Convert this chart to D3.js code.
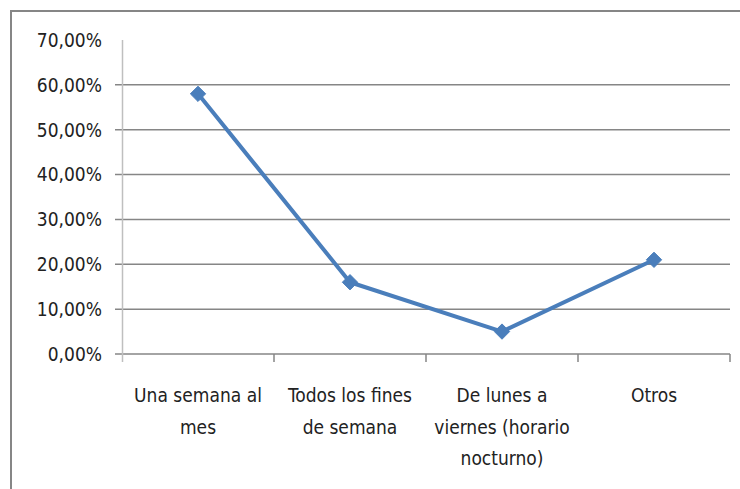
<!doctype html>
<html>
<head>
<meta charset="utf-8">
<title>Frecuencia</title>
<script src="https://cdn.jsdelivr.net/npm/d3@7"></script>
<style>
  body { margin: 0; background: #fff; }
  text { font-family: "DejaVu Sans Condensed", "Open Sans", sans-serif; fill: #222; }
</style>
</head>
<body>
<svg width="740" height="489"></svg>
<script>
// datos
var categorias = ["Una semana al mes", "Todos los fines de semana", "De lunes a viernes (horario nocturno)", "Otros"];
var etiquetas = [["Una semana al", "mes"], ["Todos los fines", "de semana"], ["De lunes a", "viernes (horario", "nocturno)"], ["Otros"]];
var valores = [0.58, 0.16, 0.05, 0.21];
var ticksY = [0, 0.1, 0.2, 0.3, 0.4, 0.5, 0.6, 0.7];

var svg = d3.select("svg");

// marco exterior
svg.append("path")
    .attr("d", "M11,489 L11,11 L740,11")
    .attr("fill", "none")
    .attr("stroke", "#868686")
    .attr("stroke-width", 2);

var x = d3.scaleBand().domain(categorias).range([122, 730]);
var y = d3.scaleLinear().domain([0, 0.7]).range([354, 40]);
var fmt = function (d) { return d3.format(".2f")(d * 100).replace(".", ",") + "%"; };

// lineas de division
svg.append("g").selectAll("line")
    .data(ticksY.filter(function (d) { return d < 0.7; }))
    .enter().append("line")
    .attr("x1", 115).attr("x2", 730)
    .attr("y1", function (d) { return y(d); })
    .attr("y2", function (d) { return y(d); })
    .attr("stroke", "#868686")
    .attr("stroke-width", 1.5);

// eje y
svg.append("line")
    .attr("x1", 122.5).attr("x2", 122.5)
    .attr("y1", y(0.7)).attr("y2", 362)
    .attr("stroke", "#bfbfbf").attr("stroke-width", 1.5);

svg.append("g").selectAll("text")
    .data(ticksY)
    .enter().append("text")
    .attr("x", 102)
    .attr("y", function (d) { return y(d); })
    .attr("dy", "0.36em")
    .attr("text-anchor", "end")
    .attr("font-size", 19)
    .text(fmt);

// marcas del eje x
var limites = categorias.map(function (c) { return x(c); }).concat([x.range()[1]]);
svg.append("g").selectAll("line")
    .data(limites.slice(1))
    .enter().append("line")
    .attr("x1", function (d) { return d; })
    .attr("x2", function (d) { return d; })
    .attr("y1", y(0)).attr("y2", 362)
    .attr("stroke", "#868686").attr("stroke-width", 1.5);

// etiquetas de categorias
var grupos = svg.append("g").selectAll("text")
    .data(categorias)
    .enter().append("text")
    .attr("text-anchor", "middle")
    .attr("font-size", 19);
grupos.selectAll("tspan")
    .data(function (d, i) { return etiquetas[i].map(function (t) { return { t: t, c: d }; }); })
    .enter().append("tspan")
    .attr("x", function (d) { return x(d.c) + x.bandwidth() / 2; })
    .attr("y", function (d, j) { return 402 + j * 31.5; })
    .text(function (d) { return d.t; });

// serie
var pts = categorias.map(function (c, i) { return [x(c) + x.bandwidth() / 2, y(valores[i])]; });
svg.append("path")
    .attr("d", d3.line()(pts))
    .attr("fill", "none")
    .attr("stroke", "#4a7ebb")
    .attr("stroke-width", 4)
    .attr("stroke-linejoin", "round");

svg.append("g").selectAll("path")
    .data(pts)
    .enter().append("path")
    .attr("transform", function (d) { return "translate(" + d[0] + "," + d[1] + ")"; })
    .attr("d", d3.symbol(d3.symbolDiamond2, 150))
    .attr("fill", "#4a7ebb")
    .attr("stroke", "#4a7ebb")
    .attr("stroke-width", 1);
</script>
</body>
</html>
